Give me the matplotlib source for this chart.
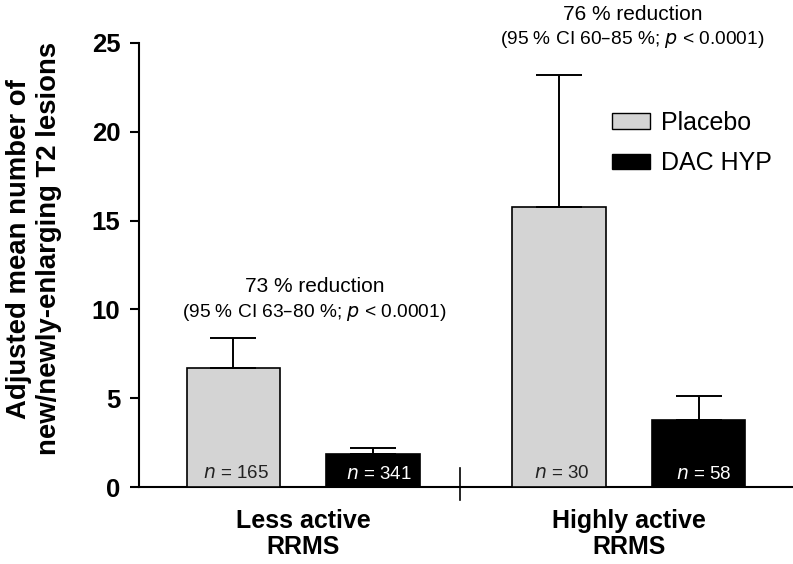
import matplotlib
matplotlib.use("Agg")
import matplotlib.pyplot as plt
from matplotlib.patches import Patch

plt.rcParams['font.family'] = ['Liberation Sans', 'DejaVu Sans']

# data
groups = ["Less active\nRRMS", "Highly active\nRRMS"]
placebo = [6.7, 15.75]
placebo_err = [1.7, 7.45]
dac = [1.85, 3.8]
dac_err = [0.35, 1.3]
n_placebo = [165, 30]
n_dac = [341, 58]
reduction = ["73 % reduction", "76 % reduction"]
ci_text = ["(95 % CI 63\u201380 %; $p$ < 0.0001)", "(95 % CI 60\u201385 %; $p$ < 0.0001)"]

grey = '#d4d4d4'
x_pl = [0, 2.333]
x_dac = [1, 3.333]
w = 0.667

fig = plt.figure(figsize=(7.93, 5.64), dpi=100)
ax = fig.add_axes([0.1753, 0.1365, 0.8247, 0.7873])

ekw = dict(elinewidth=1.4, capthick=1.4, capsize=16.5, ecolor='black')
ax.bar(x_pl, placebo, width=w, color=grey, edgecolor='black', linewidth=1.2,
       yerr=[[0, 0], placebo_err], error_kw=ekw, zorder=3)
ax.bar(x_dac, dac, width=w, color='black', edgecolor='black', linewidth=1.2,
       yerr=[[0, 0], dac_err], error_kw=ekw, zorder=3)

for i in range(2):
    ax.text(x_pl[i] + 0.02, 0.75, f"$n$ = {n_placebo[i]}", ha='center', va='center',
            fontsize=13.5, color='#222222', zorder=4)
    ax.text(x_dac[i] + 0.04, 0.7, f"$n$ = {n_dac[i]}", ha='center', va='center',
            fontsize=13.5, color='white', zorder=4)

# annotations
ax.text(0.58, 11.3, reduction[0], ha='center', va='center', fontsize=15)
ax.text(0.58, 9.8, ci_text[0], ha='center', va='center', fontsize=13.8)
ax.text(2.86, 26.6, reduction[1], ha='center', va='center', fontsize=15)
ax.text(2.86, 25.2, ci_text[1], ha='center', va='center', fontsize=13.8)

ax.set_xlim(-0.677, 4.01)
ax.set_ylim(0, 25)
ax.set_yticks([0, 5, 10, 15, 20, 25])
ax.set_xticks([])
ax.tick_params(axis='y', length=6.5, width=1.5, labelsize=18.5, pad=7)
for lab in ax.get_yticklabels():
    lab.set_fontweight('bold')
ax.spines['top'].set_visible(False)
ax.spines['right'].set_visible(False)
ax.spines['left'].set_linewidth(1.5)
ax.spines['bottom'].set_linewidth(1.5)

# separator tick between groups
sep = 1.62
ax.plot([sep, sep], [-0.73, 1.07], color='black', lw=1.2, clip_on=False)

# group labels
for i, g in enumerate(groups):
    cx = (x_pl[i] + x_dac[i]) / 2
    ax.text(cx, -2.65, g, ha='center', va='center', fontsize=18, fontweight='bold',
            linespacing=1.12)

ax.set_ylabel("Adjusted mean number of\nnew/newly-enlarging T2 lesions",
              fontsize=19.8, fontweight='bold', linespacing=1.2)
ax.yaxis.set_label_coords(-0.117, 0.537)

handles = [Patch(facecolor=grey, edgecolor='black', label='Placebo'),
           Patch(facecolor='black', edgecolor='black', label='DAC HYP')]
ax.legend(handles=handles, loc='upper left', bbox_to_anchor=(612 / 793, 1 - 111 / 564),
          bbox_transform=fig.transFigure, frameon=False, fontsize=18,
          handlelength=1.5, handleheight=0.6, handletextpad=0.47, labelspacing=0.65,
          borderpad=0, borderaxespad=0)

fig.savefig("out.png", dpi=100)
